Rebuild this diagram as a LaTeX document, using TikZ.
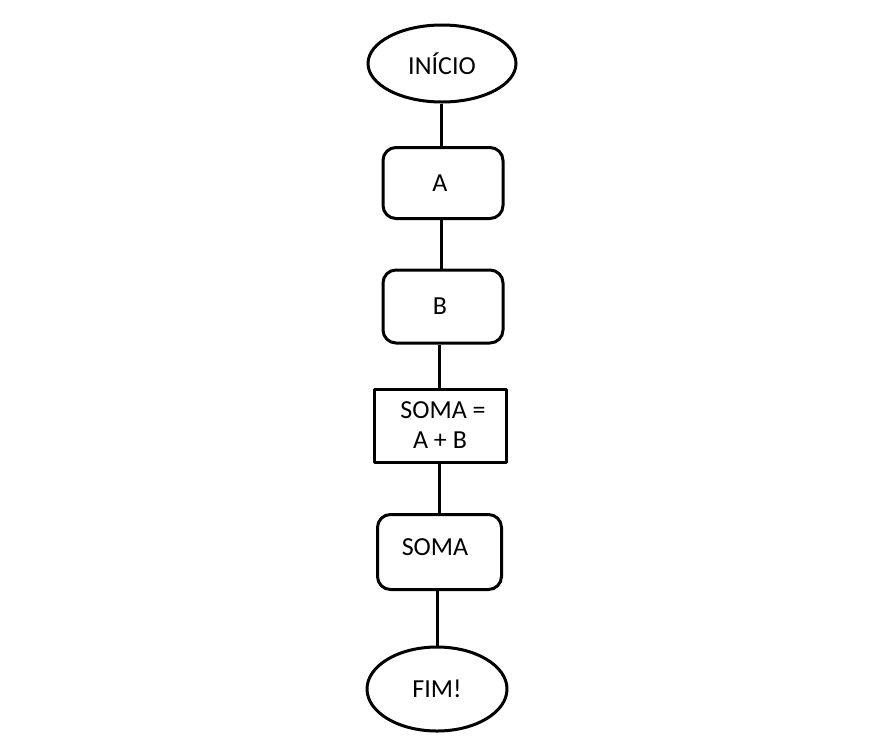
\documentclass[tikz,border=0pt]{standalone}
\usepackage{fontspec}
\setmainfont{Carlito}
\usetikzlibrary{positioning, calc, shapes.geometric}

\begin{document}
\begin{tikzpicture}[x=1pt, y=-1pt, line cap=round, line join=round]
	
	%======================
	% STYLES
	%======================
	\tikzset{
		base/.style={draw=black, line width=3pt, inner sep=0pt, font=\fontsize{26}{30}\selectfont},
		term/.style={base, ellipse},
		inbox/.style={base, rectangle, rounded corners=13pt},
		procbox/.style={base, rectangle, align=center},
		flowline/.style={line width=3pt, line cap=butt}
	}
	
	% canvas
	\useasboundingbox (0,0) rectangle (891,748);
	
	%======================
	% NODES
	%======================
	\node[term, minimum width=148pt, minimum height=77pt] (inicio) at (442,63.5) {INÍCIO};
	\node[inbox, minimum width=120pt, minimum height=71pt] (a) at (443,183) {\hspace*{-6pt}A};
	\node[inbox, minimum width=120pt, minimum height=73pt] (b) at (443,306.5) {\hspace*{-6pt}B};
	\node[procbox, minimum width=132pt, minimum height=73pt] (calc) at (440,425.5) {\hspace*{6pt}SOMA =\\A + B};
	\node[inbox, minimum width=124pt, minimum height=75pt,
		label={[font=\fontsize{26}{30}\selectfont, xshift=-4.5pt, yshift=5pt]center:SOMA}] (saida) at (439.5,552) {};
	\node[term, minimum width=140pt, minimum height=84pt] (fim) at (437,689) {FIM!};
	
	%======================
	% CONNECTORS
	%======================
	\draw[flowline] ([xshift=-1pt]inicio.south) -- ([xshift=-1pt]inicio.south |- a.north);
	\draw[flowline] ([xshift=-2pt]a.south) -- ([xshift=-2pt]a.south |- b.north);
	\draw[flowline] ([xshift=-1pt]b.south -| calc.north) -- ([xshift=-1pt]calc.north);
	\draw[flowline] ([xshift=-1pt]calc.south) -- ([xshift=-1pt]calc.south |- saida.north);
	\draw[flowline] (saida.south -| fim.north) -- (fim.north);
	
\end{tikzpicture}
\end{document}
